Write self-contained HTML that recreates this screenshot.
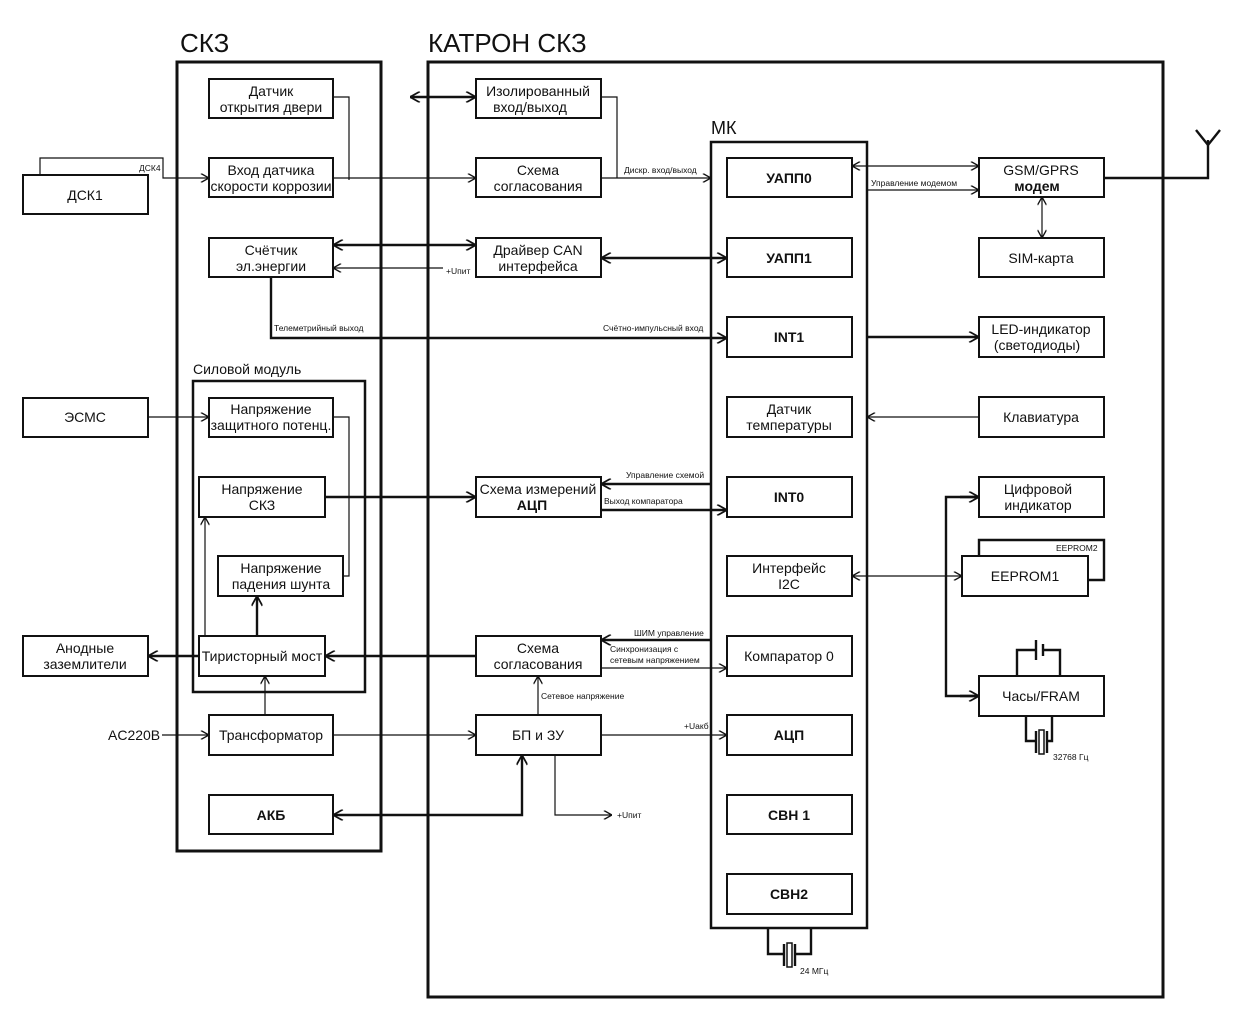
<!DOCTYPE html>
<html><head><meta charset="utf-8"><style>
html,body{margin:0;padding:0;background:#fff}
svg{display:block}
text{font-family:"Liberation Sans",sans-serif;fill:#111}
.b{fill:#fff;stroke:#111;stroke-width:2}
.t{font-size:14px;text-anchor:middle}
.s{font-size:8.5px}
.l{stroke:#111;stroke-width:1.2;fill:none}
.L{stroke:#111;stroke-width:2.4;fill:none}
</style></head><body>
<svg width="1238" height="1014" viewBox="0 0 1238 1014" xmlns="http://www.w3.org/2000/svg">
<defs>
<marker id="a" viewBox="0 0 10 10" refX="10" refY="5" markerWidth="9" markerHeight="9" markerUnits="userSpaceOnUse" orient="auto-start-reverse"><path d="M1,0 L10,5 L1,10" fill="none" stroke="#111" stroke-width="1.5"/></marker>
<marker id="A" viewBox="0 0 10 10" refX="10" refY="5" markerWidth="11" markerHeight="11" markerUnits="userSpaceOnUse" orient="auto-start-reverse"><path d="M1,0 L10,5 L1,10" fill="none" stroke="#111" stroke-width="1.6"/></marker>
</defs>
<!-- titles -->
<text x="180" y="52" font-size="26">СКЗ</text>
<text x="428" y="52" font-size="26">КАТРОН СКЗ</text>
<rect x="177" y="62" width="204" height="789" fill="none" stroke="#111" stroke-width="3"/>
<rect x="428" y="62" width="735" height="935" fill="none" stroke="#111" stroke-width="3"/>
<text x="193" y="374" font-size="14">Силовой модуль</text>
<rect x="193" y="381" width="172" height="311" fill="none" stroke="#111" stroke-width="2.5"/>
<text x="711" y="134" font-size="18">МК</text>
<rect x="711" y="142" width="156" height="786" fill="none" stroke="#111" stroke-width="2.5"/>

<!-- connectors -->
<line class="L" x1="410" y1="97" x2="476" y2="97" marker-start="url(#A)" marker-end="url(#A)"/>
<polyline class="l" points="333,97 349,97 349,180"/>
<polyline class="l" points="40,175 40,158 163,158 163,178 209,178" marker-end="url(#a)"/>
<line class="l" x1="333" y1="178" x2="476" y2="178" marker-end="url(#a)"/>
<polyline class="l" points="601,97 617,97 617,178"/>
<line class="l" x1="601" y1="178" x2="711" y2="178" marker-end="url(#a)"/>
<text class="s" x="624" y="173">Дискр. вход/выход</text>
<line class="L" x1="333" y1="245" x2="476" y2="245" marker-start="url(#A)" marker-end="url(#A)"/>
<line class="l" x1="443" y1="268" x2="333" y2="268" marker-end="url(#a)"/>
<text class="s" x="446" y="274">+Uпит</text>
<line class="L" x1="601" y1="258" x2="727" y2="258" marker-start="url(#A)" marker-end="url(#A)"/>
<polyline class="L" points="271,277 271,338 727,338" marker-end="url(#A)"/>
<text class="s" x="274" y="331">Телеметрийный выход</text>
<text class="s" x="603" y="331">Счётно-импульсный вход</text>
<line class="l" x1="148" y1="417" x2="209" y2="417" marker-end="url(#a)"/>
<polyline class="l" points="333,417 349,417 349,576 343,576"/>
<line class="L" x1="325" y1="497" x2="476" y2="497" marker-end="url(#A)"/>
<line class="l" x1="205" y1="636" x2="205" y2="517" marker-end="url(#a)"/>
<line class="L" x1="257" y1="636" x2="257" y2="596" marker-end="url(#A)"/>
<line class="L" x1="199" y1="656" x2="148" y2="656" marker-end="url(#A)"/>
<line class="L" x1="476" y1="656" x2="325" y2="656" marker-end="url(#A)"/>
<line class="l" x1="265" y1="715" x2="265" y2="676" marker-end="url(#a)"/>
<text x="108" y="740" font-size="14">AC220B</text>
<line class="l" x1="162" y1="735" x2="209" y2="735" marker-end="url(#a)"/>
<line class="l" x1="333" y1="735" x2="476" y2="735" marker-end="url(#a)"/>
<line class="l" x1="538" y1="715" x2="538" y2="676" marker-end="url(#a)"/>
<text class="s" x="541" y="699">Сетевое напряжение</text>
<polyline class="L" points="333,815 522,815 522,755" marker-start="url(#A)" marker-end="url(#A)"/>
<polyline class="l" points="555,755 555,815 612,815" marker-end="url(#a)"/>
<text class="s" x="617" y="818">+Uпит</text>
<line class="l" x1="601" y1="735" x2="727" y2="735" marker-end="url(#a)"/>
<text class="s" x="684" y="729">+Uакб</text>
<line class="L" x1="711" y1="484" x2="601" y2="484" marker-end="url(#A)"/>
<text class="s" x="626" y="478">Управление схемой</text>
<line class="L" x1="601" y1="510" x2="727" y2="510" marker-end="url(#A)"/>
<text class="s" x="604" y="504">Выход компаратора</text>
<line class="L" x1="711" y1="640" x2="601" y2="640" marker-end="url(#A)"/>
<text class="s" x="634" y="636">ШИМ управление</text>
<line class="l" x1="601" y1="668" x2="727" y2="668" marker-end="url(#a)"/>
<text class="s" x="610" y="652">Синхронизация с</text>
<text class="s" x="610" y="663">сетевым напряжением</text>
<line class="l" x1="852" y1="166" x2="979" y2="166" marker-start="url(#a)" marker-end="url(#a)"/>
<line class="l" x1="867" y1="190" x2="979" y2="190" marker-end="url(#a)"/>
<text class="s" x="871" y="186">Управление модемом</text>
<line class="l" x1="1042" y1="197" x2="1042" y2="238" marker-start="url(#a)" marker-end="url(#a)"/>
<line class="L" x1="867" y1="337" x2="979" y2="337" marker-end="url(#A)"/>
<line class="l" x1="979" y1="417" x2="867" y2="417" marker-end="url(#a)"/>
<line class="l" x1="852" y1="576" x2="962" y2="576" marker-start="url(#a)" marker-end="url(#a)"/>
<polyline class="L" points="979,497 946,497 946,696 979,696"/>
<line class="L" x1="960" y1="497" x2="979" y2="497" marker-end="url(#A)"/>
<line class="L" x1="960" y1="696" x2="979" y2="696" marker-end="url(#A)"/>
<polyline class="L" points="1104,178 1208,178 1208,140"/>
<polyline class="L" points="1196,130 1208,145 1220,130"/>
<!-- battery -->
<polyline class="L" points="1017,676 1017,650 1036,650"/>
<line class="L" x1="1036" y1="640" x2="1036" y2="660"/>
<line class="L" x1="1043" y1="644" x2="1043" y2="656"/>
<polyline class="L" points="1043,650 1060,650 1060,676"/>
<!-- crystal 32768 -->
<polyline class="L" points="1026,716 1026,741 1036,741"/>
<line class="L" x1="1036" y1="731" x2="1036" y2="753"/>
<rect x="1039" y="730" width="5" height="24" fill="none" stroke="#111" stroke-width="1.5"/>
<line class="L" x1="1047" y1="731" x2="1047" y2="753"/>
<polyline class="L" points="1047,741 1052,741 1052,716"/>
<text class="s" x="1053" y="760">32768 Гц</text>
<!-- crystal 24 -->
<polyline class="L" points="768,928 768,954 784,954"/>
<line class="L" x1="784" y1="944" x2="784" y2="966"/>
<rect x="787" y="943" width="5" height="24" fill="none" stroke="#111" stroke-width="1.5"/>
<line class="L" x1="795" y1="944" x2="795" y2="966"/>
<polyline class="L" points="795,954 811,954 811,928"/>
<text class="s" x="800" y="974">24 МГц</text>

<!-- boxes left -->
<rect class="b" x="23" y="175" width="125" height="39"/><text class="t" x="85" y="200">ДСК1</text>
<text class="s" x="139" y="171">ДСК4</text>
<rect class="b" x="23" y="398" width="125" height="39"/><text class="t" x="85" y="422">ЭСМС</text>
<rect class="b" x="23" y="636" width="125" height="40"/><text class="t" x="85" y="653">Анодные</text><text class="t" x="85" y="669">заземлители</text>
<rect class="b" x="209" y="79" width="124" height="39"/><text class="t" x="271" y="96">Датчик</text><text class="t" x="271" y="112">открытия двери</text>
<rect class="b" x="209" y="158" width="124" height="39"/><text class="t" x="271" y="175">Вход датчика</text><text class="t" x="271" y="191">скорости коррозии</text>
<rect class="b" x="209" y="238" width="124" height="39"/><text class="t" x="271" y="255">Счётчик</text><text class="t" x="271" y="271">эл.энергии</text>
<rect class="b" x="209" y="398" width="124" height="39"/><text class="t" x="271" y="414">Напряжение</text><text class="t" x="271" y="430">защитного потенц.</text>
<rect class="b" x="199" y="477" width="126" height="40"/><text class="t" x="262" y="494">Напряжение</text><text class="t" x="262" y="510">СКЗ</text>
<rect class="b" x="218" y="556" width="125" height="40"/><text class="t" x="281" y="573">Напряжение</text><text class="t" x="281" y="589">падения шунта</text>
<rect class="b" x="199" y="636" width="126" height="40"/><text class="t" x="262" y="661">Тиристорный мост</text>
<rect class="b" x="209" y="715" width="124" height="40"/><text class="t" x="271" y="740">Трансформатор</text>
<rect class="b" x="209" y="795" width="124" height="39"/><text class="t" x="271" y="820" font-weight="bold">АКБ</text>
<!-- middle -->
<rect class="b" x="476" y="79" width="125" height="39"/><text class="t" x="538" y="96">Изолированный</text><text class="t" x="530" y="112">вход/выход</text>
<rect class="b" x="476" y="158" width="125" height="39"/><text class="t" x="538" y="175">Схема</text><text class="t" x="538" y="191">согласования</text>
<rect class="b" x="476" y="238" width="125" height="39"/><text class="t" x="538" y="255">Драйвер CAN</text><text class="t" x="538" y="271">интерфейса</text>
<rect class="b" x="476" y="477" width="125" height="40"/><text class="t" x="538" y="494">Схема измерений</text><text class="t" x="532" y="510" font-weight="bold">АЦП</text>
<rect class="b" x="476" y="636" width="125" height="40"/><text class="t" x="538" y="653">Схема</text><text class="t" x="538" y="669">согласования</text>
<rect class="b" x="476" y="715" width="125" height="40"/><text class="t" x="538" y="740">БП и ЗУ</text>
<!-- MK inner -->
<g font-size="13">
<rect class="b" x="727" y="158" width="125" height="39"/><text class="t" x="789" y="183" font-weight="bold">УАПП0</text>
<rect class="b" x="727" y="238" width="125" height="39"/><text class="t" x="789" y="263" font-weight="bold">УАПП1</text>
<rect class="b" x="727" y="317" width="125" height="40"/><text class="t" x="789" y="342" font-weight="bold">INT1</text>
<rect class="b" x="727" y="397" width="125" height="40"/><text class="t" x="789" y="414">Датчик</text><text class="t" x="789" y="430">температуры</text>
<rect class="b" x="727" y="477" width="125" height="40"/><text class="t" x="789" y="502" font-weight="bold">INT0</text>
<rect class="b" x="727" y="556" width="125" height="40"/><text class="t" x="789" y="573">Интерфейс</text><text class="t" x="789" y="589">I2C</text>
<rect class="b" x="727" y="636" width="125" height="40"/><text class="t" x="789" y="661">Компаратор 0</text>
<rect class="b" x="727" y="715" width="125" height="40"/><text class="t" x="789" y="740" font-weight="bold">АЦП</text>
<rect class="b" x="727" y="795" width="125" height="39"/><text class="t" x="789" y="820" font-weight="bold">СВН 1</text>
<rect class="b" x="727" y="874" width="125" height="40"/><text class="t" x="789" y="899" font-weight="bold">СВН2</text>
</g>
<!-- right -->
<rect class="b" x="979" y="158" width="125" height="39"/><text class="t" x="1041" y="175">GSM/GPRS</text><text class="t" x="1037" y="191" font-weight="bold">модем</text>
<rect class="b" x="979" y="238" width="125" height="39"/><text class="t" x="1041" y="263">SIM-карта</text>
<rect class="b" x="979" y="317" width="125" height="40"/><text class="t" x="1041" y="334">LED-индикатор</text><text class="t" x="1037" y="350">(светодиоды)</text>
<rect class="b" x="979" y="397" width="125" height="40"/><text class="t" x="1041" y="422">Клавиатура</text>
<rect class="b" x="979" y="477" width="125" height="40"/><text class="t" x="1038" y="494">Цифровой</text><text class="t" x="1038" y="510">индикатор</text>
<polyline class="L" points="979,556 979,540 1104,540 1104,580 1088,580"/>
<text class="s" x="1056" y="551">EEPROM2</text>
<rect class="b" x="962" y="556" width="126" height="40"/><text class="t" x="1025" y="581">EEPROM1</text>
<rect class="b" x="979" y="676" width="125" height="40"/><text class="t" x="1041" y="701">Часы/FRAM</text>
</svg>
</body></html>
